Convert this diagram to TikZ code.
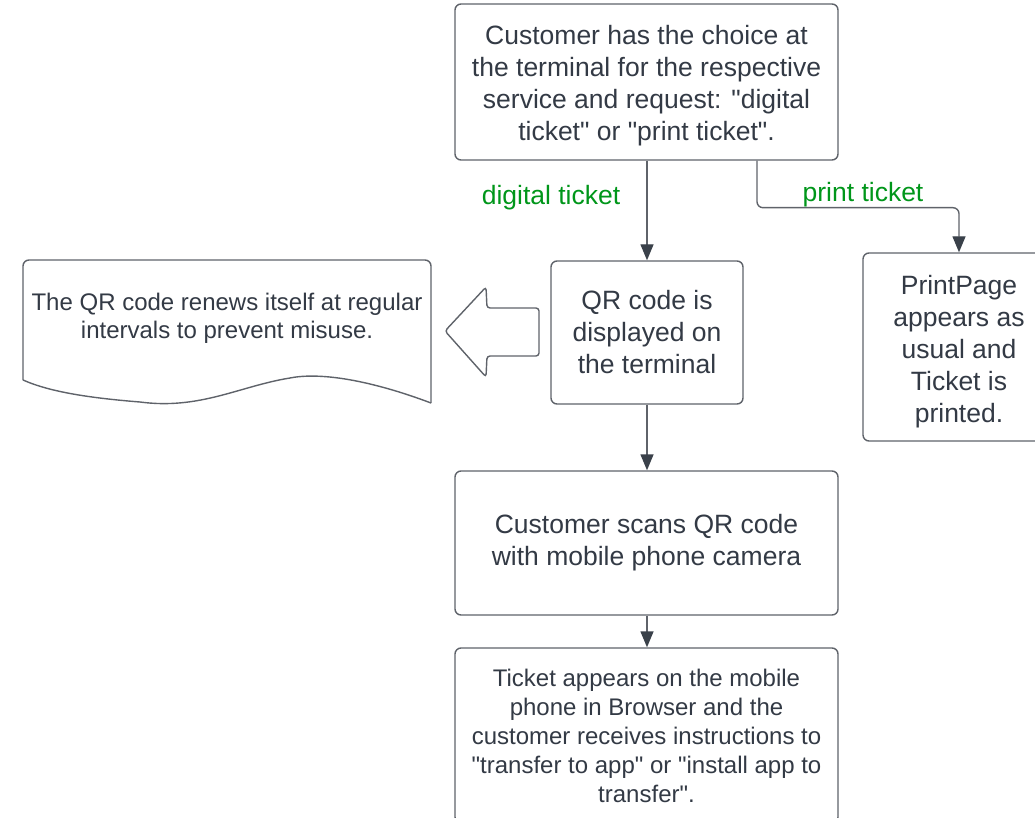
\documentclass[tikz,border=0pt]{standalone}
\usepackage{fontspec}
\setmainfont{Liberation Sans}[Ligatures=TeXOff]
\usetikzlibrary{arrows.meta}
\definecolor{edge}{HTML}{5F636A}
\definecolor{ink}{HTML}{333A45}
\definecolor{tip}{HTML}{3A414A}
\definecolor{lbl}{HTML}{00961A}
\tikzset{
  stepbox/.style={draw=edge, line width=1.4pt, rounded corners=6pt, fill=white,
    text=ink, align=center, inner sep=0pt},
  boxtext/.style={text=ink, align=center, inner sep=0pt},
  bigtxt/.style={font=\fontsize{26.5}{32}\selectfont},
  smalltxt/.style={font=\fontsize{24}{29}\selectfont},
  conn/.style={draw=edge, line width=1.4pt, -{Triangle[length=16pt,width=13pt,color=tip]}},
  edgelabel/.style={text=lbl, font=\fontsize{26.5}{30}\selectfont, inner sep=0pt}
}
\begin{document}
\begin{tikzpicture}[x=1pt,y=-1pt]
\useasboundingbox (0,0) rectangle (1035,818);

% process boxes
\node[stepbox, minimum width=383pt, minimum height=156pt] (choice) at (646.5,82) {};
\node[boxtext, bigtxt] (choicetext) at (646.5,86)
  {Customer has the choice at\\the terminal for the respective\\service and request: "digital\\ticket" or "print ticket".};
\node[stepbox, bigtxt, minimum width=192pt, minimum height=143pt] (qr) at (647,332.5)
  {QR code is\\displayed on\\the terminal};
\node[stepbox, minimum width=192pt, minimum height=188pt] (print) at (959,347) {};
\node[boxtext, bigtxt] (printtext) at (959,352)
  {PrintPage\\appears as\\usual and\\Ticket is\\printed.};
\node[stepbox, bigtxt, minimum width=383pt, minimum height=144pt] (scan) at (646.5,543)
  {Customer scans QR code\\with mobile phone camera};
\node[stepbox, smalltxt, minimum width=383pt, minimum height=175pt] (ticket) at (646.5,735.5)
  {Ticket appears on the mobile\\phone in Browser and the\\customer receives instructions to\\"transfer to app" or "install app to\\transfer".};

% note in document shape with wavy bottom edge
\draw[draw=edge, line width=1.4pt, fill=white, rounded corners=6pt]
  (23,380) -- (23,260) -- (431,260) -- (431,403);
\draw[draw=edge, line width=1.4pt]
  (431,403) .. controls (370,380) and (320,372) .. (290,378)
  .. controls (240,386) and (200,410) .. (140,402)
  .. controls (90,398) and (50,392) .. (23,380);
\node[text=ink, align=center, font=\fontsize{24}{28}\selectfont] (note) at (227,318.5)
  {The QR code renews itself at regular\\intervals to prevent misuse.};

% block arrow pointing at the note
\draw[draw=edge, line width=1.4pt, rounded corners=3pt]
  (445,331) -- (486,287) -- (487,308) -- (539,308) -- (539,356) -- (487,356) -- (486,377) -- cycle;

% connectors
\draw[conn] (choice.south -| qr.north) -- (qr.north);
\coordinate (split) at ([xshift=110.5pt]choice.south);
\draw[conn, rounded corners=6pt] (split) -- ++(0,47) -| (print.north);
\draw[conn] (qr.south) -- (qr.south |- scan.north);
\draw[conn] (scan.south -| qr.south) -- (ticket.north -| qr.south);

% branch labels
\node[edgelabel] (ldigital) at (551,198) {digital ticket};
\node[edgelabel] (lprint) at (863,195) {print ticket};
\end{tikzpicture}
\end{document}
